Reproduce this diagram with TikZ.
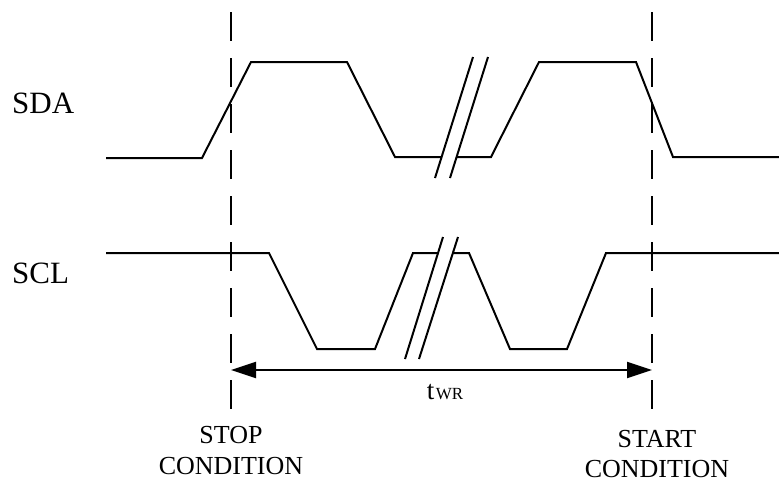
\documentclass[tikz,border=0pt]{standalone}
\usepackage{fontspec}
\setmainfont{Liberation Serif}
\usetikzlibrary{arrows.meta}
\tikzstyle{wave}=[line width=2pt,line join=miter]
\tikzstyle{marker}=[line width=2pt,dash pattern=on 29pt off 17pt]
\tikzstyle{signame}=[anchor=base west,inner sep=0pt,font=\fontsize{31}{31}\selectfont]
\tikzstyle{cond}=[anchor=base,inner sep=0pt,font=\fontsize{26}{26}\selectfont]

\begin{document}
\begin{tikzpicture}[x=1pt,y=-1pt,>={Triangle[length=25pt,width=16pt]}]
	\useasboundingbox (0,0) rectangle (779,483);

	% signal names
	\node [signame] (sda) at (12,113) {SDA};
	\node [signame] (scl) at (12,283) {SCL};

	% SDA line
	\draw [wave] (106,158) -- (202,158) -- (251,62) -- (347,62) -- (395,157) -- (442,157);
	\draw [wave] (456,157) -- (491,157) -- (539,62) -- (636,62) -- (673,157) -- (779,157);
	\draw [wave] (435,178) -- (473,57);
	\draw [wave] (450,178) -- (488,57);

	% SCL line
	\draw [wave] (106,253) -- (269,253) -- (317,349) -- (375,349) -- (413,253) -- (438,253);
	\draw [wave] (453,253) -- (469,253) -- (510,349) -- (567,349) -- (606,253) -- (779,253);
	\draw [wave] (405,359) -- (443,237);
	\draw [wave] (419,359) -- (458,237);

	% stop and start markers
	\coordinate (stoptop) at (231,12);
	\coordinate (stopbot) at (231,410);
	\coordinate (starttop) at (652,12);
	\coordinate (startbot) at (652,410);
	\draw [marker] (stoptop) -- (stopbot);
	\draw [marker] (starttop) -- (startbot);

	\coordinate (stoparr) at (231,370);
	\coordinate (startarr) at (652,370);
	\draw [wave,<->] (stoparr) -- (startarr);
	\node [anchor=base,inner sep=0pt] (twr) at (445,399)
		{\fontsize{27}{27}\selectfont t\kern1.5pt\fontsize{17}{17}\selectfont WR};

	\node [cond] (stop) at (231,443) {STOP};
	\node [cond] (stopcond) at (231,474) {CONDITION};
	\node [cond] (start) at (657,447) {START};
	\node [cond] (startcond) at (657,477) {CONDITION};
\end{tikzpicture}
\end{document}
